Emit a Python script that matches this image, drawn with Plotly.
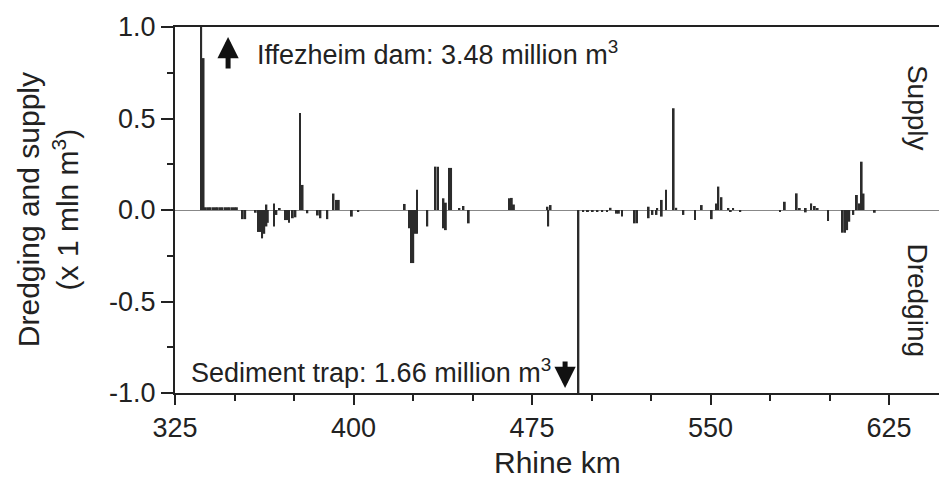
import plotly.graph_objects as go

# Sediment supply (positive) and dredging (negative) along the Rhine, million m3 per river km
supply_km = [336, 337, 338, 339, 340, 341, 342, 343, 344, 345, 346, 347, 348, 349, 350, 351,
             363.4, 366.6, 369, 377.5, 378.6, 391.6, 392.8, 393.8, 421.5, 426.7, 434.5, 435.5,
             437.8, 438.8, 440.2, 441.0, 444.5, 446.2, 465.5, 466.5, 467.4, 481.5, 482.8, 508,
             524, 527.6, 529.5, 531.3, 534.5, 535.6, 546.3, 552.3, 553.3, 554.6, 557.5, 559.5,
             581.2, 586.2, 587.5, 590, 592.3, 593.8, 595, 611.5, 612.5, 613.5, 614.3]
supply_mm3 = [3.48, 0.83, 0.015, 0.015, 0.015, 0.015, 0.015, 0.015, 0.015, 0.015, 0.015, 0.015,
              0.015, 0.015, 0.015, 0.015,
              0.03, 0.036, 0.01, 0.53, 0.137, 0.09, 0.055, 0.055, 0.033, 0.11, 0.237, 0.237,
              0.064, 0.04, 0.23, 0.23, 0.01, 0.022, 0.064, 0.066, 0.03, 0.018, 0.027, 0.012,
              0.018, 0.01, 0.055, 0.11, 0.556, 0.012, 0.027, 0.036, 0.128, 0.07, 0.008, 0.006,
              0.045, 0.091, 0.01, 0.01, 0.036, 0.022, 0.01, 0.082, 0.036, 0.264, 0.09]

dredge_km = [353.5, 354.5, 358.9, 360, 360.9, 361.6, 362.5, 363.4, 364.0, 366.6, 367.6, 371.3,
             372.1, 372.9, 374.5, 375.6, 380.6, 385, 386.1, 389, 399.3, 402, 423.3, 424.2,
             425.1, 426.0, 426.7, 431, 437.8, 438.8, 448.4, 481.8, 494.5, 496.5, 498.5, 500.5,
             502.5, 504.5, 506.5, 510.5, 511.5, 512.8, 518.2, 519.1, 524, 525.6, 527.3, 529.5,
             538.6, 543.5, 550.5, 558.5, 562.5, 579.2, 590, 599.4, 605.6, 606.5, 607.4, 608.3,
             610, 619]
dredge_mm3 = [-0.05, -0.05, -0.015, -0.12, -0.12, -0.155, -0.13, -0.09, -0.07, -0.09, -0.027, -0.055,
              -0.055, -0.07, -0.045, -0.04, -0.018, -0.03, -0.045, -0.05, -0.036, -0.006, -0.10, -0.29,
              -0.29, -0.13, -0.13, -0.09, -0.10, -0.11, -0.073, -0.09, -1.66, -0.006, -0.006, -0.006,
              -0.006, -0.006, -0.006, -0.02, -0.02, -0.036, -0.073, -0.073, -0.045, -0.027, -0.027, -0.036,
              -0.027, -0.055, -0.05, -0.008, -0.008, -0.009, -0.013, -0.06, -0.124, -0.124, -0.11, -0.064,
              -0.027, -0.015]

x_ticks = [325, 400, 475, 550, 625]
y_ticks = [-1.0, -0.5, 0.0, 0.5, 1.0]
y_tick_text = ["-1.0", "-0.5", "0.0", "0.5", "1.0"]

FONT = "Liberation Sans, Arial, sans-serif"
INK = "#222222"
BAR = "#2b2b2b"

fig = go.Figure()
fig.add_bar(x=supply_km, y=supply_mm3, width=0.8,
            marker=dict(color=BAR, line_width=0), name="Supply")
fig.add_bar(x=dredge_km, y=dredge_mm3, width=0.8,
            marker=dict(color=BAR, line_width=0), name="Dredging")

fig.update_layout(
    width=939, height=491,
    margin=dict(l=175, r=0, t=27, b=98),
    plot_bgcolor="white", paper_bgcolor="white",
    barmode="overlay", showlegend=False,
    font=dict(family=FONT, color=INK),
)

fig.update_xaxes(
    range=[325, 646], tickmode="array", tickvals=x_ticks,
    ticks="outside", ticklen=10, tickwidth=2, tickcolor=INK,
    showline=True, linecolor=INK, linewidth=2, mirror=True,
    showgrid=False, zeroline=False,
    tickfont=dict(size=27, family=FONT, color=INK),
    minor=dict(tick0=325, dtick=25, ticks="outside", ticklen=6, tickwidth=2, tickcolor=INK),
)
fig.update_yaxes(
    range=[-1, 1], tickmode="array", tickvals=y_ticks, ticktext=y_tick_text,
    ticks="outside", ticklen=12, tickwidth=2, tickcolor=INK,
    showline=True, linecolor=INK, linewidth=2,
    showgrid=False, zeroline=True, zerolinecolor="#888888", zerolinewidth=1,
    tickfont=dict(size=27, family=FONT, color=INK),
    minor=dict(tick0=0, dtick=0.25, ticks="outside", ticklen=6, tickwidth=2, tickcolor=INK),
)

# Axis titles
fig.add_annotation(xref="paper", yref="paper", x=-0.166, y=0.5, xanchor="center", yanchor="middle",
                   text="Dredging and supply<br>(x 1 mln m<sup>3</sup>)", textangle=-90,
                   showarrow=False, font=dict(size=30, family=FONT, color=INK))
fig.add_annotation(xref="paper", yref="paper", x=0.500, y=-0.19, xanchor="center", yanchor="middle",
                   text="Rhine km", showarrow=False, font=dict(size=30, family=FONT, color=INK))

# Side labels
fig.add_annotation(xref="paper", yref="paper", x=0.972, y=0.78, xanchor="center", yanchor="middle",
                   text="Supply", textangle=90, showarrow=False,
                   font=dict(size=28, family=FONT, color=INK))
fig.add_annotation(xref="paper", yref="paper", x=0.972, y=0.254, xanchor="center", yanchor="middle",
                   text="Dredging", textangle=90, showarrow=False,
                   font=dict(size=28, family=FONT, color=INK))

# Off-scale values
fig.add_annotation(xref="paper", yref="paper", x=0.105, y=0.928, xanchor="left", yanchor="middle",
                   text="Iffezheim dam: 3.48 million m<sup>3</sup>", showarrow=False,
                   font=dict(size=27, family=FONT, color=INK))
fig.add_annotation(x=347.3, y=0.945, ax=0, ay=33, text="", showarrow=True,
                   arrowhead=2, arrowsize=0.85, arrowwidth=5, arrowcolor="#111111")
fig.add_annotation(xref="paper", yref="paper", x=0.495, y=0.06, xanchor="right", yanchor="middle",
                   text="Sediment trap: 1.66 million m<sup>3</sup>", showarrow=False,
                   font=dict(size=27, family=FONT, color=INK))
fig.add_annotation(x=488.9, y=-0.973, ax=0, ay=-28, text="", showarrow=True,
                   arrowhead=2, arrowsize=0.85, arrowwidth=5, arrowcolor="#111111")

fig.write_html("out.html")
